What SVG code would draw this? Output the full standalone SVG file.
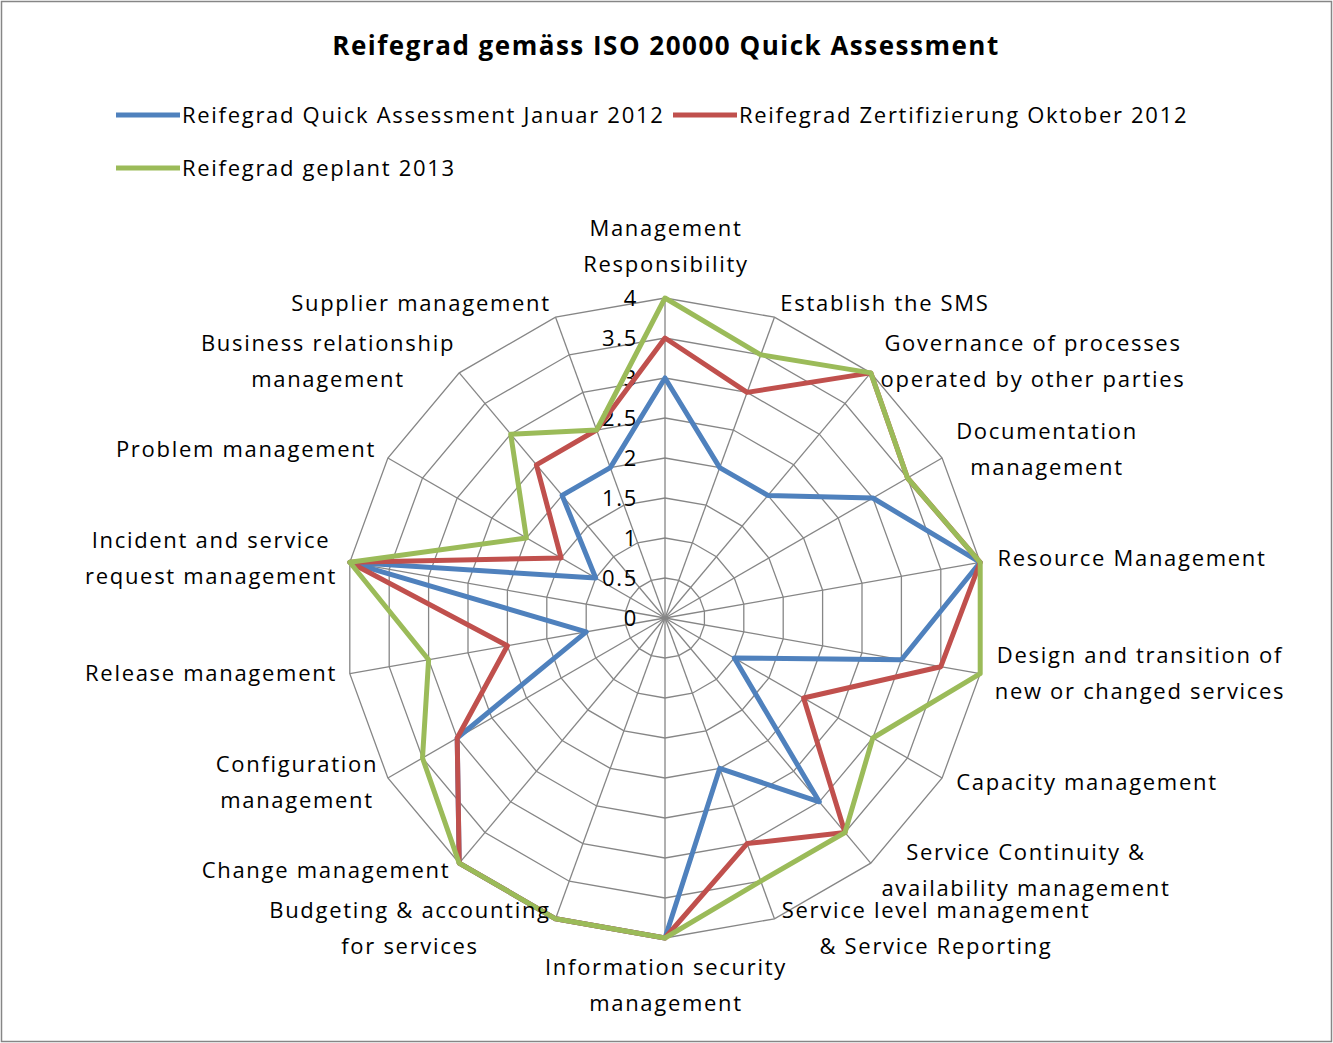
<svg xmlns="http://www.w3.org/2000/svg" width="1333" height="1043" viewBox="0 0 1333 1043">
<style>
text{font-family:"Open Sans","Liberation Sans",sans-serif;font-size:22px;fill:#000;letter-spacing:1.7px}
.lbl{text-anchor:middle}
.tick{text-anchor:end}
.ring{fill:none;stroke:#868686;stroke-width:1.3;vector-effect:non-scaling-stroke}
.spoke{stroke:#868686;stroke-width:1.3}
.s{fill:none;stroke-width:5;stroke-linejoin:round}
.b{stroke:#4F81BD}.r{stroke:#C0504D}.g{stroke:#9BBB59}
</style>
<defs>
<polygon id="u" class="ring" points="0,-1 .342,-.94 .643,-.766 .866,-.5 .985,-.174 .985,.174 .866,.5 .643,.766 .342,.94 0,1 -.342,.94 -.643,.766 -.866,.5 -.985,.174 -.985,-.174 -.866,-.5 -.643,-.766 -.342,-.94"/>
</defs>
<rect x="1.5" y="1.5" width="1330" height="1040" fill="#fff" stroke="#868686" stroke-width="1.5"/>
<text x="666" y="55" class="lbl" style="font-weight:bold;font-size:26px;letter-spacing:1.5px">Reifegrad gemäss ISO 20000 Quick Assessment</text>
<g id="legend">
<line x1="116" y1="115" x2="180" y2="115" class="s b"/><text x="182" y="123">Reifegrad Quick Assessment Januar 2012</text>
<line x1="673" y1="115" x2="737" y2="115" class="s r"/><text x="739" y="123">Reifegrad Zertifizierung Oktober 2012</text>
<line x1="116" y1="168" x2="180" y2="168" class="s g"/><text x="182" y="176">Reifegrad geplant 2013</text>
</g>
<g id="grid" transform="translate(665,618)">
<use href="#u" transform="scale(40)"/><use href="#u" transform="scale(80)"/><use href="#u" transform="scale(120)"/><use href="#u" transform="scale(160)"/>
<use href="#u" transform="scale(200)"/><use href="#u" transform="scale(240)"/><use href="#u" transform="scale(280)"/><use href="#u" transform="scale(320)"/>
<line class="spoke" x1="0" y1="0" x2="0" y2="-320"/>
<line class="spoke" x1="0" y1="0" x2="0" y2="-320" transform="rotate(20)"/>
<line class="spoke" x1="0" y1="0" x2="0" y2="-320" transform="rotate(40)"/>
<line class="spoke" x1="0" y1="0" x2="0" y2="-320" transform="rotate(60)"/>
<line class="spoke" x1="0" y1="0" x2="0" y2="-320" transform="rotate(80)"/>
<line class="spoke" x1="0" y1="0" x2="0" y2="-320" transform="rotate(100)"/>
<line class="spoke" x1="0" y1="0" x2="0" y2="-320" transform="rotate(120)"/>
<line class="spoke" x1="0" y1="0" x2="0" y2="-320" transform="rotate(140)"/>
<line class="spoke" x1="0" y1="0" x2="0" y2="-320" transform="rotate(160)"/>
<line class="spoke" x1="0" y1="0" x2="0" y2="-320" transform="rotate(180)"/>
<line class="spoke" x1="0" y1="0" x2="0" y2="-320" transform="rotate(200)"/>
<line class="spoke" x1="0" y1="0" x2="0" y2="-320" transform="rotate(220)"/>
<line class="spoke" x1="0" y1="0" x2="0" y2="-320" transform="rotate(240)"/>
<line class="spoke" x1="0" y1="0" x2="0" y2="-320" transform="rotate(260)"/>
<line class="spoke" x1="0" y1="0" x2="0" y2="-320" transform="rotate(280)"/>
<line class="spoke" x1="0" y1="0" x2="0" y2="-320" transform="rotate(300)"/>
<line class="spoke" x1="0" y1="0" x2="0" y2="-320" transform="rotate(320)"/>
<line class="spoke" x1="0" y1="0" x2="0" y2="-320" transform="rotate(340)"/>
</g>
<g id="ticks">
<text class="tick" x="638" y="626">0</text><text class="tick" x="638" y="586">0.5</text>
<text class="tick" x="638" y="546">1</text><text class="tick" x="638" y="506">1.5</text>
<text class="tick" x="638" y="466">2</text><text class="tick" x="638" y="426">2.5</text>
<text class="tick" x="638" y="386">3</text><text class="tick" x="638" y="346">3.5</text>
<text class="tick" x="638" y="306">4</text>
</g>
<g id="series" transform="translate(665,618)">
<polygon class="s b" points="0,-240 54.7,-150.4 102.9,-122.6 207.8,-120 315.2,-55.7 236.4,41.8 69.3,40 154.3,183.8 54.7,150.4 0,320 -109.4,300.8 -205.8,245.1 -207.8,120 -78.8,13.9 -315.2,-55.7 -69.3,-40 -102.9,-122.6 -54.7,-150.4"/>
<polygon class="s r" points="0,-280 82.1,-225.6 205.8,-245.1 242.5,-140 315.2,-55.7 275.8,48.7 138.6,80 180,214.5 82.1,225.6 0,320 -109.4,300.8 -205.8,245.1 -207.8,120 -157.6,27.8 -315.2,-55.7 -103.9,-60 -128.6,-153.2 -68.4,-188"/>
<polygon class="s g" points="0,-320 95.8,-263.2 205.8,-245.1 242.5,-140 315.2,-55.7 315.2,55.7 207.8,120 180,214.5 95.8,263.2 0,320 -109.4,300.8 -205.8,245.1 -242.5,140 -236.4,41.8 -315.2,-55.7 -138.6,-80 -154.3,-183.8 -68.4,-188"/>
</g>
<g id="labels">
<text class="lbl" x="666" y="236">Management</text><text class="lbl" x="666" y="272">Responsibility</text>
<text class="lbl" x="885" y="311">Establish the SMS</text>
<text class="lbl" x="1033" y="351">Governance of processes</text><text class="lbl" x="1033" y="387">operated by other parties</text>
<text class="lbl" x="1047" y="439">Documentation</text><text class="lbl" x="1047" y="475">management</text>
<text class="lbl" x="1132" y="566">Resource Management</text>
<text class="lbl" x="1140" y="663">Design and transition of</text><text class="lbl" x="1140" y="699">new or changed services</text>
<text class="lbl" x="1087" y="790">Capacity management</text>
<text class="lbl" x="1026" y="860">Service Continuity &amp;</text><text class="lbl" x="1026" y="896">availability management</text>
<text class="lbl" x="936" y="918">Service level management</text><text class="lbl" x="936" y="954">&amp; Service Reporting</text>
<text class="lbl" x="666" y="975">Information security</text><text class="lbl" x="666" y="1011">management</text>
<text class="lbl" x="410" y="918">Budgeting &amp; accounting</text><text class="lbl" x="410" y="954">for services</text>
<text class="lbl" x="326" y="878">Change management</text>
<text class="lbl" x="297" y="772">Configuration</text><text class="lbl" x="297" y="808">management</text>
<text class="lbl" x="211" y="681">Release management</text>
<text class="lbl" x="211" y="548">Incident and service</text><text class="lbl" x="211" y="584">request management</text>
<text class="lbl" x="246" y="457">Problem management</text>
<text class="lbl" x="328" y="351">Business relationship</text><text class="lbl" x="328" y="387">management</text>
<text class="lbl" x="421" y="311">Supplier management</text>
</g>
</svg>
